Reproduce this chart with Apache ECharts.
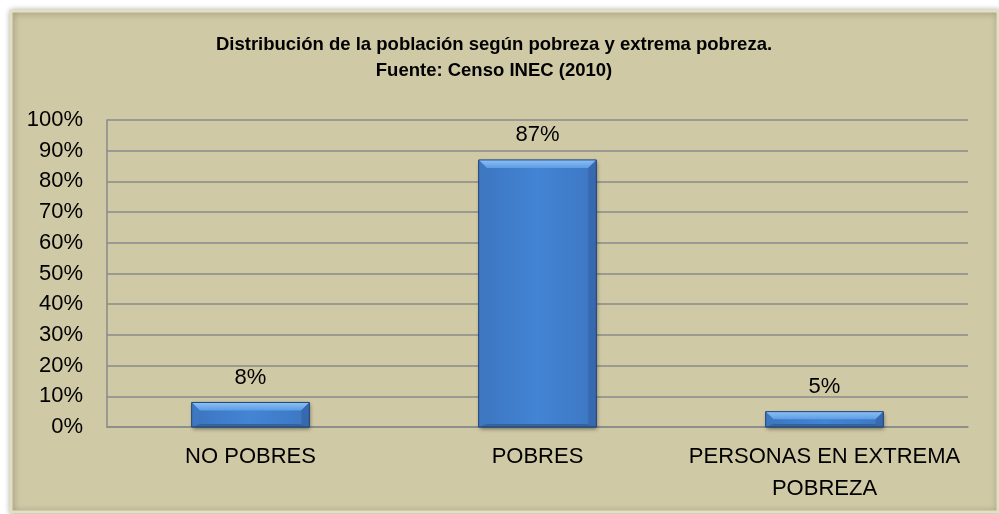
<!DOCTYPE html>
<html>
<head>
<meta charset="utf-8">
<script src="https://cdn.jsdelivr.net/npm/echarts@6/dist/echarts.min.js"></script>
<style>
  html, body { margin: 0; padding: 0; background: #fff; }
  #chart { width: 999px; height: 514px; }
</style>
</head>
<body>
<div id="chart"></div>
<script>
// datos del gráfico
const categorias = ["NO POBRES", "POBRES", "PERSONAS EN EXTREMA\nPOBREZA"];
const porcentajes = [8, 87, 5];
const titulo = "Distribución de la población según pobreza y extrema pobreza.\nFuente: Censo INEC (2010)";

const fuente = "'Liberation Sans', Arial, sans-serif";
const anchoBarra = 0.41; // fracción de la categoría

// relleno de las barras
const rellenoBarra = new echarts.graphic.LinearGradient(0, 0, 1, 0, [
  { offset: 0, color: "#3c75c0" },
  { offset: 0.5, color: "#4384d4" },
  { offset: 1, color: "#3d77c2" }
]);

// bisel encima de cada barra
function dibujarBisel(params, api) {
  const cima = api.coord([api.value(0), api.value(1)]);
  const base = api.coord([api.value(0), 0]);
  const w = api.size([1, 0])[0] * anchoBarra;
  const x0 = cima[0] - w / 2, x1 = cima[0] + w / 2;
  const y0 = cima[1], y1 = base[1];
  const b = Math.min(8, (y1 - y0) / 2);
  const bb = Math.min(3, b); // abajo casi no se ve
  return {
    type: "group",
    children: [
      { // arriba, claro
        type: "polygon",
        shape: { points: [[x0, y0], [x1, y0], [x1 - b, y0 + b], [x0 + b, y0 + b]] },
        style: { fill: new echarts.graphic.LinearGradient(0, 0, 0, 1, [
          { offset: 0, color: "#8cc0f5" }, { offset: 1, color: "#5d9de4" }]) }
      },
      { // izquierda
        type: "polygon",
        shape: { points: [[x0, y0], [x0 + b, y0 + b], [x0 + b, y1 - bb], [x0, y1]] },
        style: { fill: "#3f78c2" }
      },
      { // derecha, oscuro
        type: "polygon",
        shape: { points: [[x1, y0], [x1, y1], [x1 - b, y1 - bb], [x1 - b, y0 + b]] },
        style: { fill: "#3868ad" }
      },
      { // abajo, oscuro
        type: "polygon",
        shape: { points: [[x0, y1], [x0 + b, y1 - bb], [x1 - b, y1 - bb], [x1, y1]] },
        style: { fill: "#33649f" }
      },
      {
        type: "rect",
        shape: { x: x0, y: y0, width: w, height: y1 - y0 },
        style: { fill: "none", stroke: "#1f4478", lineWidth: 1 }
      }
    ]
  };
}

const chart = echarts.init(document.getElementById("chart"));

chart.setOption({
  animation: false,
  backgroundColor: "#ffffff",
  graphic: [
    {
      type: "rect",
      z: -10,
      shape: { x: 11, y: 11, width: 987, height: 501 },
      style: {
        fill: "#cfc9a5",
        stroke: "#e4dfc2",
        lineWidth: 3,
        shadowBlur: 6,
        shadowColor: "rgba(0,0,0,0.35)",
        shadowOffsetX: 1,
        shadowOffsetY: 1
      }
    }
  ],
  title: {
    text: titulo,
    left: 489,
    top: 27,
    textAlign: "center",
    textStyle: {
      fontFamily: fuente,
      fontSize: 18.5,
      fontWeight: "bold",
      color: "#000",
      lineHeight: 26,
      align: "center"
    }
  },
  grid: { left: 107, right: 31, top: 120, bottom: 87, containLabel: false },
  xAxis: {
    type: "category",
    data: categorias,
    axisLine: { lineStyle: { color: "#8a8a8a", width: 1.5 } },
    axisTick: { show: false },
    axisLabel: {
      interval: 0,
      fontFamily: fuente,
      fontSize: 22,
      color: "#000",
      margin: 14,
      lineHeight: 32
    }
  },
  yAxis: {
    type: "value",
    min: 0,
    max: 100,
    interval: 10,
    axisLine: { show: true, lineStyle: { color: "#8a8a8a", width: 1.5 } },
    axisTick: { show: false },
    splitLine: { lineStyle: { color: "#8a8a8a", width: 1.5 } },
    axisLabel: {
      formatter: "{value}%",
      fontFamily: fuente,
      fontSize: 22,
      color: "#000",
      margin: 24
    }
  },
  series: [
    {
      type: "bar",
      data: porcentajes,
      barWidth: anchoBarra * 100 + "%",
      itemStyle: {
        color: rellenoBarra,
        shadowBlur: 4,
        shadowColor: "rgba(0,0,0,0.45)",
        shadowOffsetX: 1,
        shadowOffsetY: 2
      },
      label: {
        show: true,
        position: "top",
        distance: 14,
        formatter: "{c}%",
        fontFamily: fuente,
        fontSize: 22,
        color: "#000"
      }
    },
    {
      type: "custom",
      silent: true,
      z: 3,
      renderItem: dibujarBisel,
      data: porcentajes.map((v, i) => [i, v])
    }
  ]
});
</script>
</body>
</html>
